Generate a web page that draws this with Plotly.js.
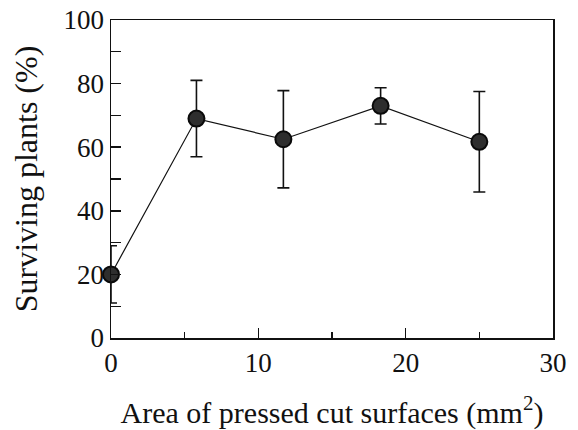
<!DOCTYPE html>
<html>
<head>
<meta charset="utf-8">
<script src="https://cdn.plot.ly/plotly-3.0.1.min.js"></script>
<style>
html,body{margin:0;padding:0;background:#fff;}
#chart{width:578px;height:430px;}
#chart .xtick text, #chart .ytick text{font-family:"Liberation Serif", serif !important;font-size:27px !important;fill:#111 !important;}
</style>
</head>
<body>
<div id="chart"></div>
<script>
// Data
const areaMm2 = [0, 5.8, 11.7, 18.3, 25];
const survivingPct = [20, 69, 62.5, 73, 61.7];
const errorPlus = [9, 12, 15.3, 5.7, 15.8];
const errorMinus = [9, 12, 15.3, 5.7, 15.8];
const xTickVals = [0, 10, 20, 30];
const xMinorTickVals = [5, 15, 25];
const yTickVals = [0, 20, 40, 60, 80, 100];
const yMinorTickVals = [10, 30, 50, 70, 90];

const serif = 'Liberation Serif';

const trace = {
  x: areaMm2,
  y: survivingPct,
  type: 'scatter',
  mode: 'lines+markers',
  cliponaxis: false,
  showlegend: false,
  line: {color: '#111', width: 1.2},
  marker: {size: 16, color: '#2e2e2e', line: {color: '#0a0a0a', width: 2}},
  error_y: {
    type: 'data', symmetric: false,
    array: errorPlus, arrayminus: errorMinus,
    color: '#111', thickness: 1.6, width: 6
  }
};
// invisible helper trace so the overlay axes (minor ticks) exist
const helper = {x: [0], y: [0], xaxis: 'x2', yaxis: 'y2', mode: 'markers', marker: {opacity: 0}, hoverinfo: 'skip', showlegend: false};

const layout = {
  width: 578, height: 430,
  margin: {l: 111, r: 25, t: 20, b: 92},
  showlegend: false,
  font: {family: serif, size: 26},
  xaxis: {
    range: [0, 30], tickmode: 'array', tickvals: xTickVals,
    ticks: 'inside', ticklen: 10, tickwidth: 1.5, tickcolor: '#111',
    showline: true, linecolor: '#111', linewidth: 1.5, mirror: true,
    showgrid: false, zeroline: false,
    tickfont: {family: serif, size: 27, color: '#111'},
    title: {text: 'Area of pressed cut surfaces (mm<sup>2</sup>)', font: {family: serif, size: 30, color: '#111'}}
  },
  yaxis: {
    range: [0, 100], tickmode: 'array', tickvals: yTickVals,
    ticks: 'inside', ticklen: 10, tickwidth: 1.5, tickcolor: '#111',
    showline: true, linecolor: '#111', linewidth: 1.5, mirror: true,
    showgrid: false, zeroline: false,
    tickfont: {family: serif, size: 27, color: '#111'},
    title: {text: 'Surviving plants (%)', font: {family: serif, size: 32, color: '#111'}, standoff: 16}
  },
  xaxis2: {
    overlaying: 'x', range: [0, 30], tickmode: 'array', tickvals: xMinorTickVals,
    ticks: 'inside', ticklen: 6, tickwidth: 1.2, tickcolor: '#111',
    showticklabels: false, showgrid: false, zeroline: false, showline: false
  },
  yaxis2: {
    overlaying: 'y', range: [0, 100], tickmode: 'array', tickvals: yMinorTickVals,
    ticks: 'inside', ticklen: 10, tickwidth: 1.2, tickcolor: '#111',
    showticklabels: false, showgrid: false, zeroline: false, showline: false
  }
};

Plotly.newPlot('chart', [helper, trace], layout, {staticPlot: true, displayModeBar: false});
</script>
</body>
</html>
